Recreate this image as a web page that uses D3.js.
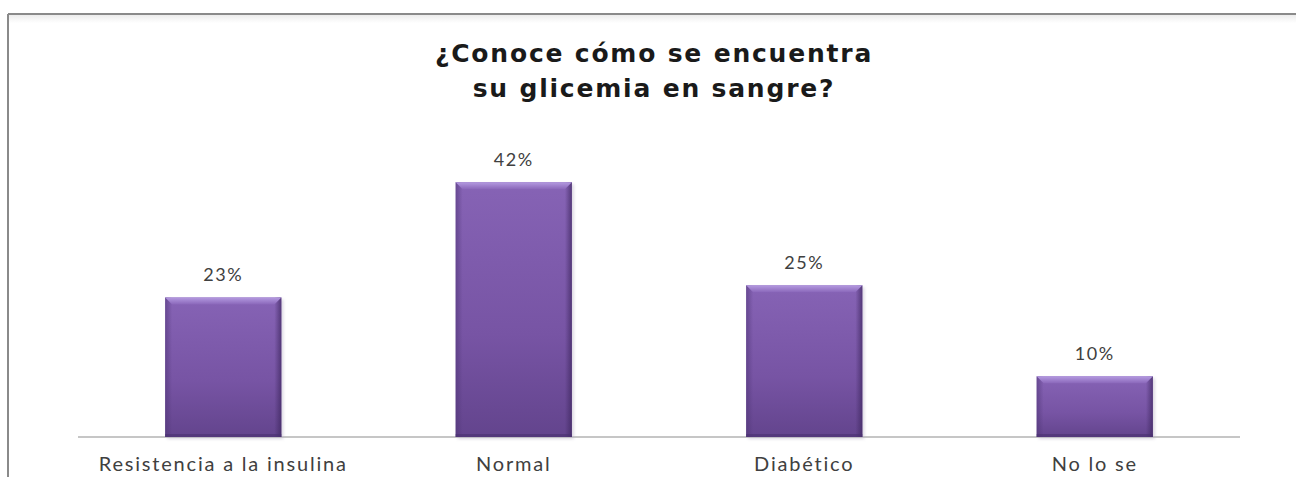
<!DOCTYPE html>
<html>
<head>
<meta charset="utf-8">
<script src="https://cdn.jsdelivr.net/npm/d3@7"></script>
<style>
  html, body { margin: 0; padding: 0; background: #fff; }
  svg { display: block; }
</style>
</head>
<body>
<svg id="chart" width="1296" height="477"></svg>
<script>
// Survey answers and their shares (percent)
const categories = ["Resistencia a la insulina", "Normal", "Diabético", "No lo se"];
const values = [23, 42, 25, 10];
const titleLines = ["¿Conoce cómo se encuentra", "su glicemia en sangre?"];

const W = 1296, H = 477;
const svg = d3.select("#chart");
const defs = svg.append("defs");

// Chart frame (top and left edges visible)
const frameTop = 14, frameLeft = 8;
const frameShade = defs.append("linearGradient").attr("id", "frameShade")
  .attr("x1", 0).attr("y1", 0).attr("x2", 0).attr("y2", 1);
frameShade.append("stop").attr("offset", 0).attr("stop-color", "#ececec");
frameShade.append("stop").attr("offset", 1).attr("stop-color", "#ffffff");
svg.append("rect").attr("x", frameLeft).attr("y", frameTop + 1)
  .attr("width", W - frameLeft).attr("height", 8).attr("fill", "url(#frameShade)");
svg.append("line").attr("x1", frameLeft).attr("x2", W)
  .attr("y1", frameTop).attr("y2", frameTop)
  .attr("stroke", "#8a8a8a").attr("stroke-width", 2);
svg.append("line").attr("x1", frameLeft).attr("x2", frameLeft)
  .attr("y1", frameTop).attr("y2", H)
  .attr("stroke", "#8a8a8a").attr("stroke-width", 2);

// Plot area
const plot = { left: 78, right: 1240, base: 437, top: 164 };
const x = d3.scaleBand().domain(categories)
  .range([plot.left, plot.right]).paddingInner(0.6).paddingOuter(0.3);
const y = d3.scaleLinear().domain([0, 45]).range([plot.base, plot.top]);

// Bar gradients
const body = defs.append("linearGradient").attr("id", "barBody")
  .attr("x1", 0).attr("y1", 0).attr("x2", 0).attr("y2", 1);
body.append("stop").attr("offset", 0).attr("stop-color", "#8663b5");
body.append("stop").attr("offset", 0.6).attr("stop-color", "#7754a4");
body.append("stop").attr("offset", 1).attr("stop-color", "#63448d");

const sides = defs.append("linearGradient").attr("id", "barSides")
  .attr("x1", 0).attr("y1", 0).attr("x2", 1).attr("y2", 0);
sides.append("stop").attr("offset", 0).attr("stop-color", "#4e3475").attr("stop-opacity", 0.55);
sides.append("stop").attr("offset", 0.06).attr("stop-color", "#4e3475").attr("stop-opacity", 0);
sides.append("stop").attr("offset", 0.94).attr("stop-color", "#3e275f").attr("stop-opacity", 0);
sides.append("stop").attr("offset", 1).attr("stop-color", "#3e275f").attr("stop-opacity", 0.7);

const topBevel = defs.append("linearGradient").attr("id", "barTop")
  .attr("x1", 0).attr("y1", 0).attr("x2", 0).attr("y2", 1);
topBevel.append("stop").attr("offset", 0).attr("stop-color", "#b49ae0");
topBevel.append("stop").attr("offset", 1).attr("stop-color", "#8a67ba");

const blur = defs.append("filter").attr("id", "soft")
  .attr("x", "-10%").attr("y", "-10%").attr("width", "120%").attr("height", "120%");
blur.append("feGaussianBlur").attr("stdDeviation", 1.5);

// Baseline with soft shadow
svg.append("line").attr("x1", plot.left).attr("x2", plot.right)
  .attr("y1", plot.base + 4).attr("y2", plot.base + 4)
  .attr("stroke", "#e8e8e8").attr("stroke-width", 2).attr("filter", "url(#soft)");
svg.append("line").attr("x1", plot.left).attr("x2", plot.right)
  .attr("y1", plot.base).attr("y2", plot.base)
  .attr("stroke", "#c6c6c6").attr("stroke-width", 2);

const data = categories.map((c, i) => ({ c, v: values[i] }));
const bars = svg.append("g").selectAll("g").data(data).join("g");

// soft drop shadow
bars.append("rect")
  .attr("x", d => x(d.c) + 2).attr("y", d => y(d.v) + 2)
  .attr("width", x.bandwidth()).attr("height", d => y(0) - y(d.v))
  .attr("fill", "#b8b0c4").attr("opacity", 0.5).attr("filter", "url(#soft)");
// body
bars.append("rect")
  .attr("x", d => x(d.c)).attr("y", d => y(d.v))
  .attr("width", x.bandwidth()).attr("height", d => y(0) - y(d.v))
  .attr("fill", "url(#barBody)");
// darker side edges
bars.append("rect")
  .attr("x", d => x(d.c)).attr("y", d => y(d.v))
  .attr("width", x.bandwidth()).attr("height", d => y(0) - y(d.v))
  .attr("fill", "url(#barSides)");
// light top bevel (trapezoid)
bars.append("path")
  .attr("d", d => {
    const x0 = x(d.c), x1 = x0 + x.bandwidth(), t = y(d.v), b = 7;
    return `M${x0},${t}L${x1},${t}L${x1 - b},${t + b}L${x0 + b},${t + b}Z`;
  })
  .attr("fill", "url(#barTop)");
// bottom dark edge
bars.append("rect")
  .attr("x", d => x(d.c)).attr("y", y(0) - 3)
  .attr("width", x.bandwidth()).attr("height", 3)
  .attr("fill", "#4a3070").attr("opacity", 0.6);

// Value labels
bars.append("text")
  .attr("x", d => x(d.c) + x.bandwidth() / 2)
  .attr("y", d => y(d.v) - 16)
  .attr("text-anchor", "middle")
  .attr("font-family", "Lato, 'Open Sans', sans-serif")
  .attr("font-size", 18).attr("letter-spacing", 1.5)
  .attr("fill", "#404040")
  .text(d => d.v + "%");

// Category axis labels
const xAxis = d3.axisBottom(x).tickSize(0).tickPadding(0);
const ax = svg.append("g").attr("transform", `translate(0,${plot.base})`).call(xAxis);
ax.select(".domain").remove();
ax.selectAll("text")
  .attr("dy", 0).attr("y", 34)
  .attr("font-family", "Lato, 'Open Sans', sans-serif")
  .attr("font-size", 20).attr("letter-spacing", 1.8)
  .attr("fill", "#404040");

// Title
svg.append("text")
  .attr("x", 654).attr("y", 62)
  .attr("text-anchor", "middle")
  .attr("font-family", "'DejaVu Sans', Verdana, sans-serif")
  .attr("font-weight", "bold").attr("font-size", 25).attr("letter-spacing", 1.8)
  .attr("fill", "#1a1a1a")
  .selectAll("tspan").data(titleLines).join("tspan")
  .attr("x", 654).attr("dy", (d, i) => i === 0 ? 0 : 35)
  .text(d => d);
</script>
</body>
</html>
